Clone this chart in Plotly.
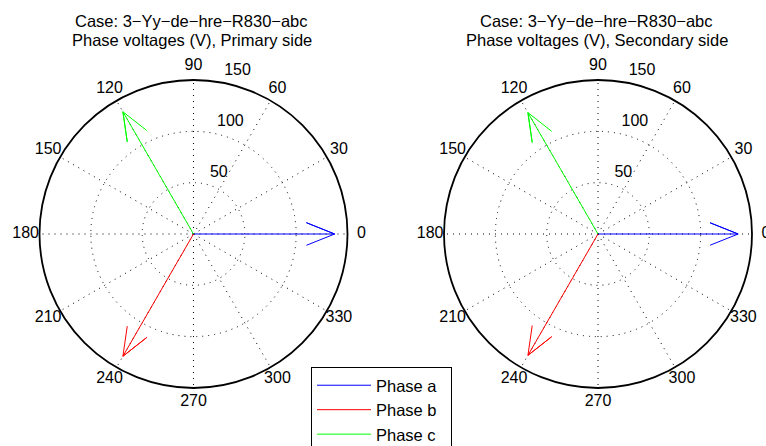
import plotly.graph_objects as go
import math

# ---- data ----
phases = ["Phase a", "Phase b", "Phase c"]
phase_colors = ["#0000ff", "#ff0000", "#00ff00"]
angles_deg = [0, 240, 120]
primary_mag = [137.5, 137.5, 137.5]
secondary_mag = [136.5, 136.5, 136.5]
angle_ticks = [0, 30, 60, 90, 120, 150, 180, 210, 240, 270, 300, 330]
radial_ticks = [50, 100, 150]
title_line1 = ["Case: 3\u2212Yy\u2212de\u2212hre\u2212R830\u2212abc",
               "Case: 3\u2212Yy\u2212de\u2212hre\u2212R830\u2212abc"]
title_line2 = ["Phase voltages (V), Primary side",
               "Phase voltages (V), Secondary side"]

W, H = 766, 446
FONT = "Liberation Sans, Arial, Helvetica, sans-serif"
TICK_SIZE = 16
TEXT_SIZE = 16.5
RMAX = radial_ticks[-1]
CENTERS = [(193.5, 234.0), (598.0, 234.0)]   # px
RPX = 154.0                                 # px radius of outer circle
LAB_RANGE = RMAX * 168.0 / RPX              # range of the label overlay subplot
LAB_R = min(1.1 * RMAX, LAB_RANGE - 0.1)

def arrow(mag, ang):
    # MATLAB compass arrow: 0 -> z -> 0.8z+0.08iz -> z -> 0.8z-0.08iz
    br = mag * math.hypot(0.8, 0.08)
    da = math.degrees(math.atan2(0.08, 0.8))
    return [0, mag, br, mag, br], [ang, ang, ang + da, ang, ang - da]

def dom(center, rpx):
    cx, cy = center
    return dict(x=[max(0, (cx - rpx) / W), min(1, (cx + rpx) / W)],
                y=[max(0, 1 - (cy + rpx) / H), min(1, 1 - (cy - rpx) / H)])

fig = go.Figure()
mags = [primary_mag, secondary_mag]
main_names = ["polar", "polar2"]
lab_names = ["polar3", "polar4"]

for k in range(2):
    for i, ph in enumerate(phases):
        r, th = arrow(mags[k][i], angles_deg[i])
        fig.add_trace(go.Scatterpolar(
            r=r, theta=th, mode="lines", name=ph + "\u00a0\u00a0\u200b",
            line=dict(color=phase_colors[i], width=1),
            subplot=main_names[k], showlegend=(k == 0), legendgroup=ph,
            hoverinfo="skip"))
    # radial tick labels (MATLAB style at 82 deg)
    fig.add_trace(go.Scatterpolar(
        r=[t + RMAX / 3 / 20 for t in radial_ticks], theta=[82] * len(radial_ticks),
        mode="text", text=["\u200b\u00a0\u00a0" + str(t) for t in radial_ticks],
        textposition="top right", textfont=dict(size=TICK_SIZE, color="black", family=FONT),
        subplot=lab_names[k], showlegend=False, cliponaxis=False, hoverinfo="skip"))
    # angular tick labels at ~1.1 * rmax
    fig.add_trace(go.Scatterpolar(
        r=[LAB_R] * len(angle_ticks), theta=angle_ticks,
        mode="text", text=[str(a) for a in angle_ticks],
        textposition="middle center", textfont=dict(size=TICK_SIZE, color="black", family=FONT),
        subplot=lab_names[k], showlegend=False, cliponaxis=False, hoverinfo="skip"))

def main_polar(center):
    return dict(
        domain=dom(center, RPX),
        bgcolor="white",
        radialaxis=dict(range=[0, RMAX], tickvals=radial_ticks[:-1],
                        showticklabels=False, ticks="", showline=False,
                        gridcolor="black", griddash="1px,5px", gridwidth=1),
        angularaxis=dict(rotation=0, direction="counterclockwise",
                         tickmode="array", tickvals=angle_ticks,
                         showticklabels=False, ticks="",
                         showline=True, linecolor="black", linewidth=1.8,
                         gridcolor="black", griddash="1px,5px", gridwidth=1),
    )

def label_polar(center):
    return dict(
        domain=dom(center, RPX * LAB_RANGE / RMAX),
        bgcolor="rgba(0,0,0,0)",
        radialaxis=dict(range=[0, LAB_RANGE], visible=False),
        angularaxis=dict(rotation=0, direction="counterclockwise", visible=False),
    )

annotations = []
for (cx, cy), t1, t2 in zip(CENTERS, title_line1, title_line2):
    for t, ypx in ((t1, 21), (t2, 40)):
        annotations.append(dict(
            x=(cx - 1.5) / W, y=1 - ypx / H, xref="paper", yref="paper",
            xanchor="center", yanchor="middle", text=t, showarrow=False,
            font=dict(size=TEXT_SIZE, color="black", family=FONT)))

fig.update_layout(
    width=W, height=H,
    margin=dict(l=0, r=0, t=0, b=0, autoexpand=False),
    paper_bgcolor="white", plot_bgcolor="white",
    font=dict(family=FONT, size=TEXT_SIZE, color="black"),
    polar=main_polar(CENTERS[0]),
    polar2=main_polar(CENTERS[1]),
    polar3=label_polar(CENTERS[0]),
    polar4=label_polar(CENTERS[1]),
    annotations=annotations,
    showlegend=True,
    legend=dict(x=311 / W, y=1 - 367 / H, xanchor="left", yanchor="top",
                bordercolor="black", borderwidth=1, bgcolor="white",
                font=dict(size=TEXT_SIZE, color="black", family=FONT),
                traceorder="grouped", tracegroupgap=0, itemwidth=54),
)

fig.write_html("out.html", post_script="document.body.style.margin='0';",
               config={"displayModeBar": False})
